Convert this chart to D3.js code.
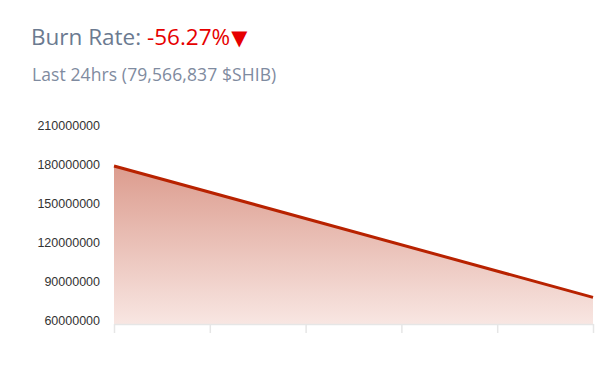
<html>
<head>
<script src="https://d3js.org/d3.v7.min.js"></script>
<style>
  body { margin: 0; background: #fff; }
  .title { font-family: "Open Sans", Lato, sans-serif; }
</style>
</head>
<body>
<svg width="612" height="366"></svg>
<script>
// data
const times = [0, 1];                       // start / end of the 24h window
const burned = [178900000, 77500000];       // line values
const yTicks = [60000000, 90000000, 120000000, 150000000, 180000000, 210000000];
const xTicks = [0, 0.2, 0.4, 0.6, 0.8, 1];
const titleLabel = "Burn Rate: ";
const changeLabel = "-56.27%";
const subLabel = "Last 24hrs (79,566,837 $SHIB)";

const svg = d3.select("svg");

// plot edges
const plotLeft = 114, plotRight = 593, plotTop = 125.7, plotBottom = 324;

const x = d3.scaleLinear().domain([0, 1]).range([plotLeft, plotRight]);
const y = d3.scaleLinear().domain([56920000, 210000000]).range([plotBottom, plotTop]);

// title
const t = svg.append("text").attr("class", "title")
  .attr("x", 31).attr("y", 45).style("font-size", "22.5px");
t.append("tspan").attr("fill", "#6b7a90").text(titleLabel);
t.append("tspan").attr("fill", "#e60000").text(changeLabel);
t.append("tspan").attr("fill", "#e60000").attr("dx", 1)
  .style("font-family", "'DejaVu Sans', sans-serif").style("font-size", "21px").text("\u25BC");

svg.append("text").attr("class", "title")
  .attr("x", 32).attr("y", 81)
  .attr("fill", "#7f8ba0")
  .style("font-size", "17.5px")
  .style("letter-spacing", "0.1px")
  .text(subLabel);

// gradient for area
const grad = svg.append("defs").append("linearGradient")
  .attr("id", "fade").attr("x1", 0).attr("y1", 0).attr("x2", 0).attr("y2", 1);
grad.append("stop").attr("offset", "0%").attr("stop-color", "#dc9c8e");
grad.append("stop").attr("offset", "100%").attr("stop-color", "#f8e6e2");

const pts = times.map((d, i) => [d, burned[i]]);

svg.append("path")
  .datum(pts)
  .attr("fill", "url(#fade)")
  .attr("d", d3.area().x(d => x(d[0])).y0(plotBottom).y1(d => y(d[1])));

// y axis labels (no line)
const yAxis = svg.append("g")
  .attr("transform", "translate(" + (plotLeft - 14) + ",0)")
  .call(d3.axisLeft(y).tickValues(yTicks).tickSize(0).tickPadding(0).tickFormat(d3.format("d")));
yAxis.select(".domain").remove();
yAxis.selectAll("text")
  .attr("fill", "#333")
  .style("font-family", "'Liberation Sans', Arial, sans-serif")
  .style("font-size", "12.5px");

// x axis: light line with ticks below, no labels
const xAxis = svg.append("g")
  .attr("transform", "translate(0," + plotBottom + ")")
  .call(d3.axisBottom(x).tickValues(xTicks).tickSize(9).tickSizeOuter(0).tickFormat(""));
xAxis.select(".domain").attr("stroke", "#e6e6e6").attr("stroke-width", 1.5);
xAxis.selectAll(".tick line").attr("stroke", "#e6e6e6").attr("stroke-width", 1.5);

// line
svg.append("path")
  .datum(pts)
  .attr("fill", "none")
  .attr("stroke", "#b82200")
  .attr("stroke-width", 3)
  .attr("d", d3.line().x(d => x(d[0])).y(d => y(d[1])));
</script>
</body>
</html>
